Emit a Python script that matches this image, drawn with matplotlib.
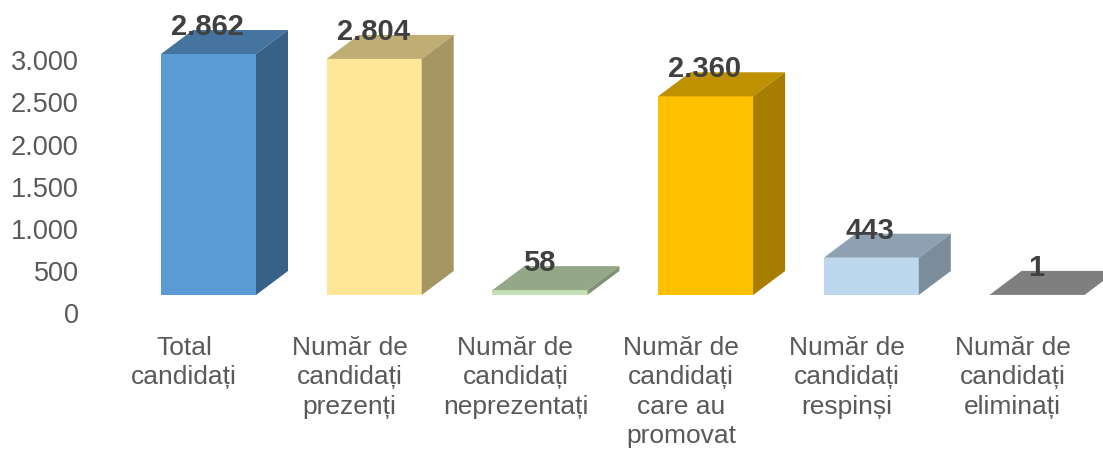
import matplotlib
matplotlib.use('Agg')
import matplotlib.pyplot as plt
from matplotlib.patches import Polygon

categories = ['Total\ncandidați', 'Număr de\ncandidați\nprezenți', 'Număr de\ncandidați\nneprezentați',
              'Număr de\ncandidați\ncare au\npromovat', 'Număr de\ncandidați\nrespinși', 'Număr de\ncandidați\neliminați']
values = [2862, 2804, 58, 2360, 443, 1]
value_labels = ['2.862', '2.804', '58', '2.360', '443', '1']
front_colors = ['#5B9BD5', '#FFE699', '#C5E0B4', '#FFC000', '#BDD7EE', '#7F7F7F']
top_colors = ['#44749F', '#BFAD73', '#94A887', '#BF9000', '#8EA1B3', '#7F7F7F']
side_colors = ['#376186', '#A69664', '#7F9273', '#A67D00', '#7B8C9B', '#6E6E6E']
y_ticks = [0, 500, 1000, 1500, 2000, 2500, 3000]
y_labels = ['0', '500', '1.000', '1.500', '2.000', '2.500', '3.000']

W, H = 1103, 449
plt.rcParams['font.family'] = ['Liberation Sans', 'DejaVu Sans']
fig = plt.figure(figsize=(W / 100, H / 100), dpi=100)

# axes from x=85px to the right edge, bottom edge on the zero line
ax = fig.add_axes([85 / W, (H - 313) / H, 1 - 85 / W, 313 / H])
px_x = 165.7            # pixels per category
px_y = 0.0842           # pixels per value unit
ax.set_xlim((85 - 184) / px_x, (W - 184) / px_x)
ax.set_ylim(0, 313 / px_y)

# 3D look: offsets in data units
bar_w = 95 / px_x
shift = 24.5 / px_x     # front face sits right of the label
base = 18 / px_y        # front face starts above the zero line
dx = 32 / px_x
dy = 24 / px_y

for i, v in enumerate(values):
    x0 = i + shift - bar_w / 2
    x1 = x0 + bar_w
    y0 = base
    y1 = base + v
    ax.add_patch(Polygon([(x0, y0), (x1, y0), (x1, y1), (x0, y1)], color=front_colors[i], lw=0, clip_on=False))
    ax.add_patch(Polygon([(x0, y1), (x1, y1), (x1 + dx, y1 + dy), (x0 + dx, y1 + dy)], color=top_colors[i], lw=0, clip_on=False))
    ax.add_patch(Polygon([(x1, y0), (x1 + dx, y0 + dy), (x1 + dx, y1 + dy), (x1, y1)], color=side_colors[i], lw=0, clip_on=False))
    ax.text(i + shift - 1 / px_x, y1 + 27 / px_y, value_labels[i], ha='center', va='center',
            fontsize=21, fontweight='bold', color='#404040')

ax.set_yticks(y_ticks, y_labels)
ax.set_xticks(range(len(categories)), categories)
ax.tick_params(axis='y', length=0, pad=4.5, labelsize=19.5, labelcolor='#595959')
ax.tick_params(axis='x', length=0, pad=16.5, labelsize=19, labelcolor='#595959')
for lab in ax.get_xticklabels():
    lab.set_linespacing(1.28)
for s in ax.spines.values():
    s.set_visible(False)

fig.savefig('out.png', dpi=100)
